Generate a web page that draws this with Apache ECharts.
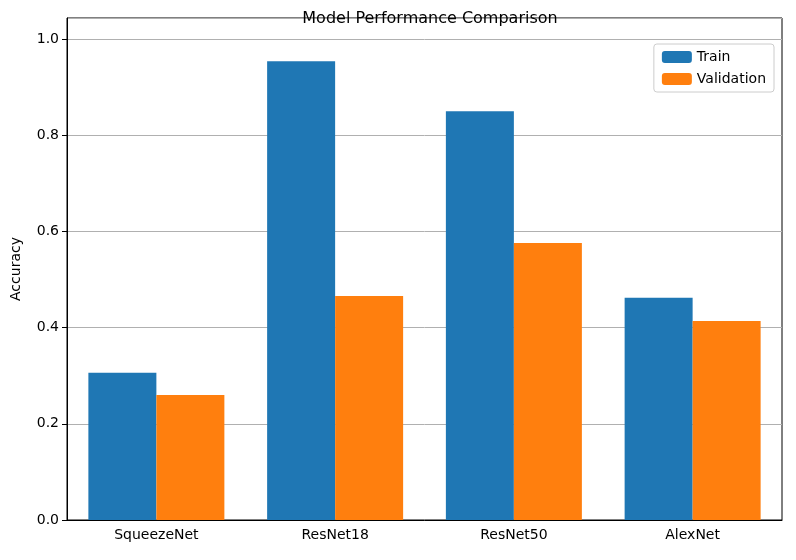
<!DOCTYPE html>
<html>
<head>
<meta charset="utf-8">
<script src="https://cdn.jsdelivr.net/npm/echarts@6/dist/echarts.min.js"></script>
<style>body{margin:0;background:#fff}#c{width:796px;height:560px}</style>
</head>
<body>
<div id="c"></div>
<script>
const models = ["SqueezeNet", "ResNet18", "ResNet50", "AlexNet"];
const train = [0.306, 0.954, 0.850, 0.462];
const validation = [0.260, 0.466, 0.576, 0.414];

const chart = echarts.init(document.getElementById("c"));
const font = "DejaVu Sans";
chart.setOption({
  animation: false,
  textStyle: { fontFamily: font },
  title: {
    text: "Model Performance Comparison",
    left: 425, top: 6, textAlign: "center",
    textStyle: { fontSize: 16, fontWeight: "normal", color: "#000", fontFamily: font }
  },
  legend: {
    right: 22, top: 44, orient: "vertical", itemGap: 8,
    itemWidth: 30, itemHeight: 12,
    padding: [6, 8], borderColor: "#ccc", borderWidth: 1, borderRadius: 3,
    textStyle: { fontSize: 14, color: "#000", fontFamily: font }
  },
  grid: { left: 67, right: 14, top: 18, bottom: 40, show: true, borderColor: "#000", borderWidth: 1 },
  xAxis: {
    type: "category", data: models,
    axisLine: { lineStyle: { color: "#000" } },
    axisTick: { alignWithLabel: true, lineStyle: { color: "#000" } },
    axisLabel: { color: "#000", fontSize: 14, fontFamily: font }
  },
  yAxis: {
    type: "value", min: 0, max: 1.044, interval: 0.2,
    name: "Accuracy", nameLocation: "middle", nameGap: 44,
    nameTextStyle: { color: "#000", fontSize: 14, fontFamily: font },
    axisLine: { show: true, lineStyle: { color: "#000" } },
    axisTick: { show: true, lineStyle: { color: "#000" } },
    axisLabel: { color: "#000", fontSize: 14, fontFamily: font, showMaxLabel: false,
      formatter: v => v.toFixed(1) },
    splitLine: { lineStyle: { color: "#b0b0b0" } }
  },
  series: [
    { name: "Train", type: "bar", data: train, barWidth: 68, barGap: "0%", itemStyle: { color: "#1f77b4" } },
    { name: "Validation", type: "bar", data: validation, barWidth: 68, barGap: "0%", itemStyle: { color: "#ff7f0e" } }
  ]
});
</script>
</body>
</html>
